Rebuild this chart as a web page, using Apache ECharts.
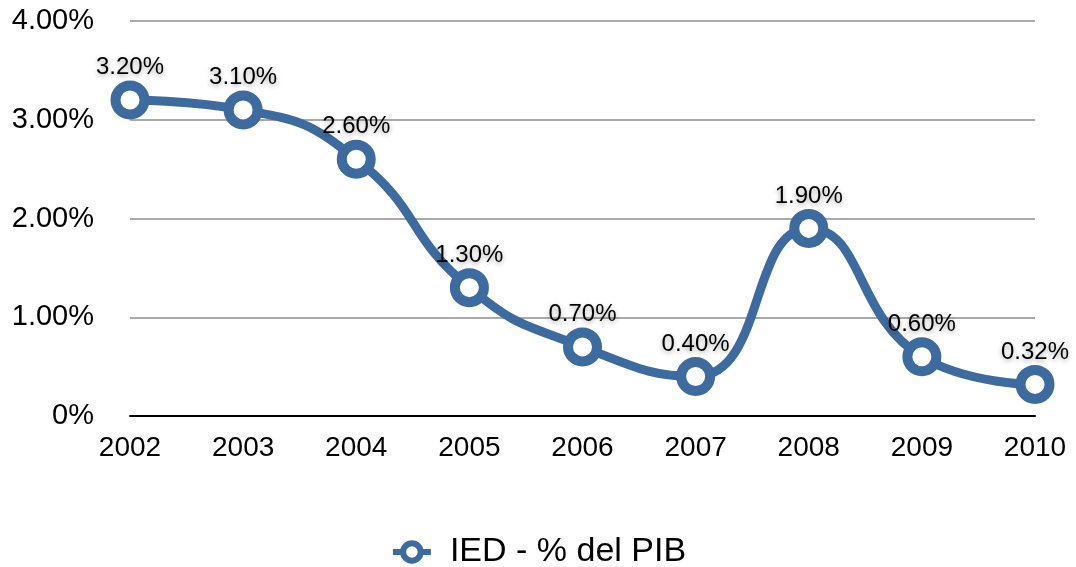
<!DOCTYPE html>
<html><head><meta charset="utf-8">
<script src="https://cdn.jsdelivr.net/npm/echarts@6/dist/echarts.min.js"></script>
<style>html,body{margin:0;padding:0;background:#fff}#c{width:1076px;height:567px}</style>
</head><body><div id="c"></div>
<script>
const categories = ['2002','2003','2004','2005','2006','2007','2008','2009','2010'];
const seriesName = 'IED - % del PIB';
const values = [3.20, 3.10, 2.60, 1.30, 0.70, 0.40, 1.90, 0.60, 0.32];
const yTicks = [0, 1, 2, 3, 4];

const font = '"Liberation Sans", Arial, Helvetica, sans-serif';
const blue = '#3d6b9f';
const chart = echarts.init(document.getElementById('c'));
chart.setOption({
  animation: false,
  textStyle: { fontFamily: font },
  grid: { left: 130, right: 41, top: 21, bottom: 151, containLabel: false },
  xAxis: {
    type: 'category', data: categories, boundaryGap: false,
    axisLine: { lineStyle: { color: '#000', width: 2 } },
    axisTick: { show: false },
    axisLabel: { color: '#000', fontSize: 28, margin: 18, fontFamily: font }
  },
  yAxis: {
    type: 'value', min: yTicks[0], max: yTicks[yTicks.length-1], interval: 1,
    axisLine: { show: false }, axisTick: { show: false },
    splitLine: { lineStyle: { color: '#aaaaaa', width: 2 } },
    axisLabel: { color: '#000', fontSize: 29, margin: 36, fontFamily: font,
      formatter: v => v === 0 ? '0%' : v.toFixed(2) + '%' }
  },
  legend: {
    top: 530, left: 'center', itemWidth: 38, itemHeight: 22, itemGap: 10,
    textStyle: { color: '#000', fontSize: 34, fontFamily: font, padding: [0, 0, 0, 14] },
    itemStyle: { color: '#fff', borderColor: blue, borderWidth: 6 },
    lineStyle: { color: blue, width: 6 },
    data: [seriesName]
  },
  series: [{
    name: seriesName, type: 'line', data: values, smooth: 0.5,
    symbol: 'circle', symbolSize: 29,
    lineStyle: { color: blue, width: 9 },
    itemStyle: { color: '#fff', borderColor: blue, borderWidth: 10 },
    label: {
      show: true, position: 'top', distance: 1, color: '#000', fontSize: 24, fontFamily: font,
      textShadowColor: 'rgba(0,0,0,0.35)', textShadowBlur: 5, textShadowOffsetY: 2,
      formatter: p => p.value.toFixed(2) + '%'
    }
  }]
});
</script></body></html>
